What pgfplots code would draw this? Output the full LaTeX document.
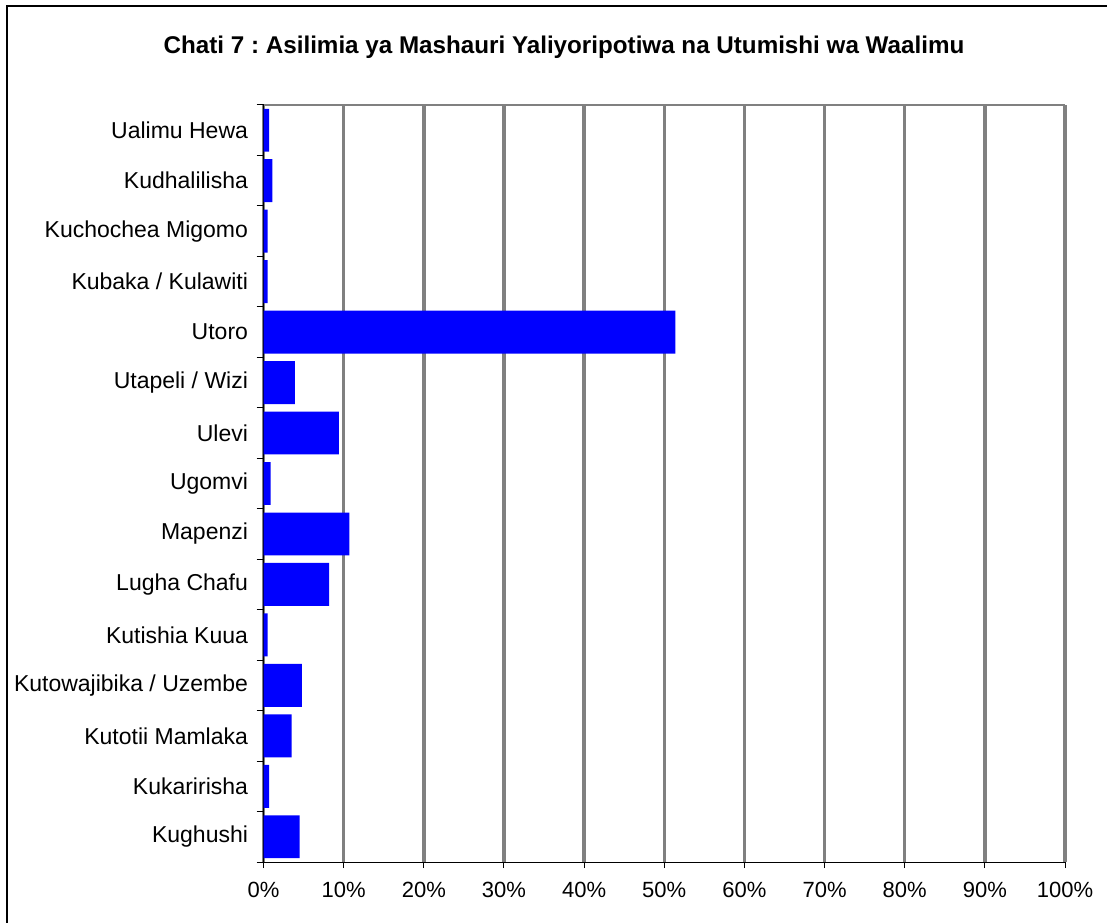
\documentclass[border=0pt]{standalone}
\usepackage{pgfplots}
\pgfplotsset{compat=1.18}
\usepackage{fontspec}
\setmainfont{Liberation Sans}
\frenchspacing
\definecolor{barblue}{RGB}{0,0,255}
\definecolor{gridgray}{RGB}{128,128,128}
\begin{document}
\begin{tikzpicture}[x=1pt,y=1pt]
\useasboundingbox (0pt,0pt) rectangle (1107pt,922pt);
\fill[white] (0pt,0pt) rectangle (1107pt,922pt);
\draw[black, line width=1.2pt] (7pt,-20pt) rectangle (1130pt,916pt);
\node[font=\fontsize{24.2}{28}\selectfont\bfseries, inner sep=0pt, anchor=base] at (564pt,868pt) {Chati 7 : Asilimia ya Mashauri Yaliyoripotiwa na Utumishi wa Waalimu};
\begin{axis}[
  at={(263.5pt,60pt)}, anchor=south west,
  scale only axis, width=801.5pt, height=757pt,
  xbar, bar width=0.85, bar shift=0pt,
  xmin=0, xmax=100, ymin=-0.5, ymax=14.5,
  axis x line*=bottom, axis y line*=left,
  axis line style={black, line width=1pt},
  tick align=outside,
  xtick={0,10,...,100},
  xticklabels={0\%,10\%,20\%,30\%,40\%,50\%,60\%,70\%,80\%,90\%,100\%},
  ytick={0,...,14},
  yticklabels={Kughushi,Kukaririsha,Kutotii Mamlaka,Kutowajibika / Uzembe,Kutishia Kuua,Lugha Chafu,Mapenzi,Ugomvi,Ulevi,Utapeli / Wizi,Utoro,Kubaka / Kulawiti,Kuchochea Migomo,Kudhalilisha,Ualimu Hewa},
  minor ytick={-0.5,0.5,...,14.5},
  major tick length=6pt, minor tick length=7pt,
  every major y tick/.style={draw=none},
  every minor y tick/.style={black, line width=1pt},
  every major x tick/.style={black, line width=1pt},
  xticklabel style={font=\fontsize{22}{24}\selectfont, yshift=-11pt},
  yticklabel style={font=\fontsize{23}{25}\selectfont, xshift=-6pt},
  xmajorgrids,
  major x grid style={gridgray, line width=3.5pt},
]
\addplot[fill=barblue, draw=none] coordinates {
(4.5,0) (0.7,1) (3.5,2) (4.8,3) (0.5,4) (8.2,5) (10.7,6) (0.9,7) (9.4,8) (3.9,9) (51.4,10) (0.5,11) (0.5,12) (1.1,13) (0.7,14)
};
\draw[gridgray, line width=2pt] (axis description cs:0,1) -- (axis description cs:1,1);
\end{axis}
\end{tikzpicture}
\end{document}
